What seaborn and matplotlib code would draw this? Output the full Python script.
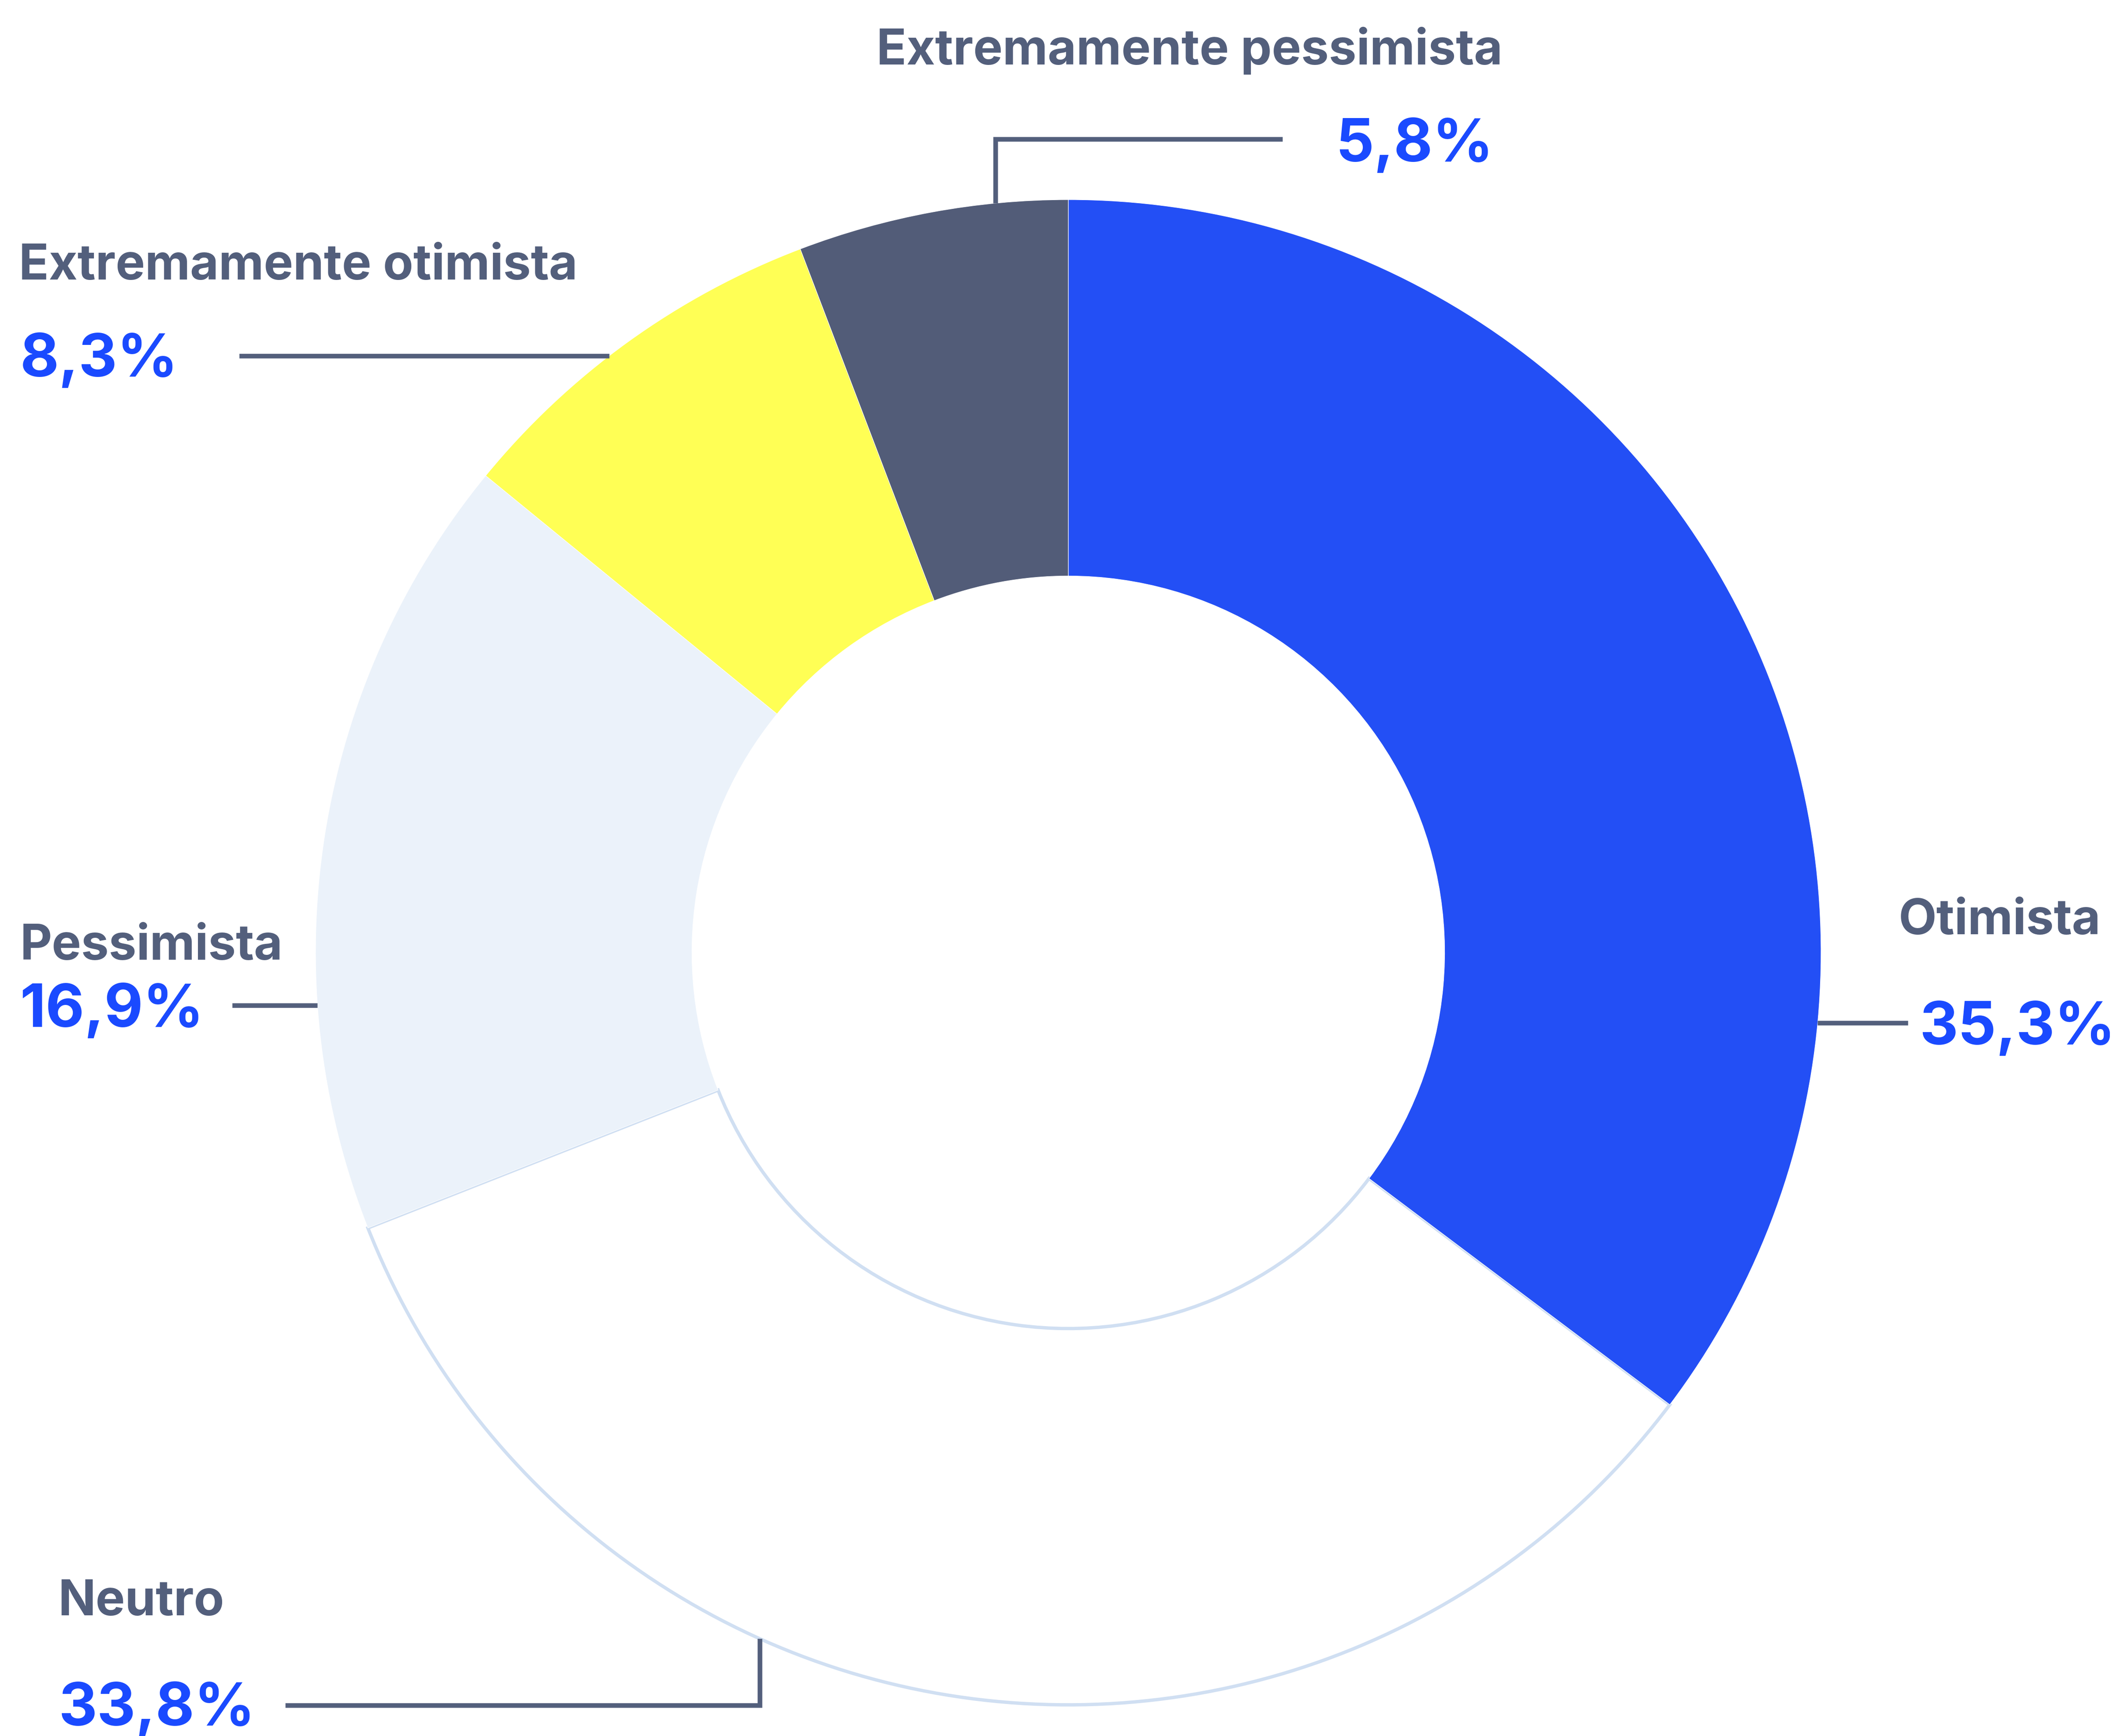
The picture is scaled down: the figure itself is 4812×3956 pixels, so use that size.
import numpy as np
import matplotlib
matplotlib.use("Agg")
import matplotlib.pyplot as plt
import seaborn as sns

# data
categories = ["Otimista", "Neutro", "Pessimista", "Extremamente otimista", "Extremamente pessimista"]
shares = [35.3, 33.8, 16.9, 8.3, 5.8]
colors = ["#234FF5", "#FFFFFF", "#EBF2FA", "#FFFF55", "#525C78"]

# plot formatting
sns.set_theme(style="white")
plt.rcParams["font.family"] = ["Inter", "DejaVu Sans"]

W, H = 4812, 3956
label_col = "#535F7C"
pct_col = "#1A4AFF"

fig = plt.figure(figsize=(W / 100, H / 100), dpi=100)
ax = fig.add_axes([0, 0, 1, 1])

cx, cy, R = 2434, H - 2170, 1715
wedges, _ = ax.pie(shares, colors=colors, startangle=90, counterclock=False,
                   center=(cx, cy), radius=R,
                   wedgeprops=dict(width=R / 2, edgecolor="white", linewidth=0.8))
# neutral slice gets a light blue outline
wedges[1].set_edgecolor("#D0DFF2")
wedges[1].set_linewidth(5.5)
wedges[1].set_zorder(0.5)

ax.set_xlim(0, W)
ax.set_ylim(0, H)
ax.set_aspect("equal")
ax.axis("off")


def on_circle_x(y_px, side):
    dy = (H - y_px) - cy
    return cx + side * np.sqrt(R ** 2 - dy ** 2)


def on_circle_y(x_px):
    dx = x_px - cx
    return H - (cy - np.sqrt(R ** 2 - dx ** 2))


def fmt(v):
    return f"{v:.1f}".replace(".", ",") + "%"


lw = 7.6
# label layout (pixel coords from top-left): name xy, pct xy
layout = {
    "Otimista": ((4326, 2129), (4373, 2380)),
    "Neutro": ((133, 3681), (133, 3932)),
    "Pessimista": ((46, 2187), (46, 2340)),
    "Extremamente otimista": ((43, 637), (46, 858)),
    "Extremamente pessimista": ((1997, 147), (3043, 368)),
}

for cat, val in zip(categories, shares):
    (nx, ny), (px, py) = layout[cat]
    ax.text(nx, H - ny, cat, fontsize=81, fontweight="bold", color=label_col,
            ha="left", va="baseline")
    ax.text(px, H - py, fmt(val), fontsize=98, fontweight="bold", color=pct_col,
            ha="left", va="baseline")

# leader lines
y = 2331
ax.plot([on_circle_x(y, 1), 4347], [H - y, H - y], color=label_col, lw=lw, solid_capstyle="butt")
y = 2291
ax.plot([529, on_circle_x(y, -1)], [H - y, H - y], color=label_col, lw=lw, solid_capstyle="butt")
y = 811
ax.plot([545, on_circle_x(y, -1)], [H - y, H - y], color=label_col, lw=lw, solid_capstyle="butt")
x, y = 1731, 3886
ax.plot([650, x, x], [H - y, H - y, H - on_circle_y(x)], color=label_col, lw=lw,
        solid_joinstyle="miter", solid_capstyle="butt")
x, y = 2268, 317
ax.plot([2922, x, x], [H - y, H - y, H - (2 * 2170 - on_circle_y(x))], color=label_col, lw=lw,
        solid_joinstyle="miter", solid_capstyle="butt")

fig.savefig("out.png", dpi=100, facecolor="white")
